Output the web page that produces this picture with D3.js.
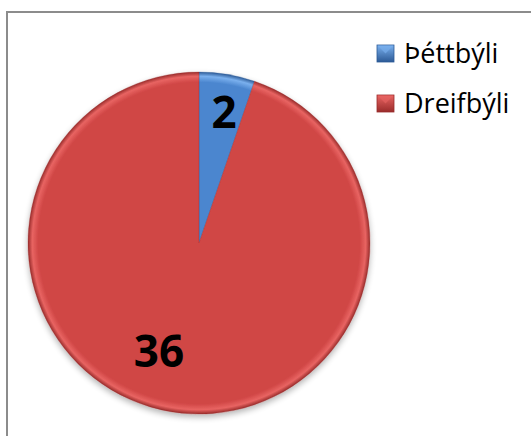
<!DOCTYPE html>
<html><head><meta charset="utf-8">
<script src="https://cdn.jsdelivr.net/npm/d3@7"></script>
<style>body{margin:0;background:#fff}svg{display:block}</style>
</head><body>
<svg id="c" width="531" height="436"></svg>
<script>
const categories = ["Þéttbýli", "Dreifbýli"];
const values = [2, 36];
const colors = ["#4b86cf", "#d04645"];
const lights = ["#7ab0ee", "#e86462"];
const darks = ["#2c5a96", "#9a2c2b"];

const svg = d3.select("#c");
const defs = svg.append("defs");

// chart border
svg.append("rect").attr("x", 7).attr("y", 12).attr("width", 540).attr("height", 440)
  .attr("fill", "#fff").attr("stroke", "#8c8c8c").attr("stroke-width", 2);

const cx = 199, cy = 243, r = 171;

// shadow
const f = defs.append("filter").attr("id", "sh").attr("x", "-20%").attr("y", "-20%").attr("width", "140%").attr("height", "140%");
f.append("feGaussianBlur").attr("in", "SourceAlpha").attr("stdDeviation", 3);
f.append("feOffset").attr("dx", 0).attr("dy", 3).attr("result", "b");
f.append("feComponentTransfer").append("feFuncA").attr("type", "linear").attr("slope", 0.3);
const m = f.append("feMerge"); m.append("feMergeNode"); m.append("feMergeNode").attr("in", "SourceGraphic");

categories.forEach((c, i) => {
  const g = defs.append("radialGradient").attr("id", "g" + i)
    .attr("gradientUnits", "userSpaceOnUse").attr("cx", 0).attr("cy", 0).attr("r", r);
  g.append("stop").attr("offset", "0%").attr("stop-color", colors[i]);
  g.append("stop").attr("offset", "94%").attr("stop-color", colors[i]);
  g.append("stop").attr("offset", "97.5%").attr("stop-color", lights[i]);
  g.append("stop").attr("offset", "100%").attr("stop-color", darks[i]);
  const lg = defs.append("linearGradient").attr("id", "l" + i).attr("x1", 0).attr("y1", 0).attr("x2", 0).attr("y2", 1);
  lg.append("stop").attr("offset", "0%").attr("stop-color", lights[i]);
  lg.append("stop").attr("offset", "100%").attr("stop-color", darks[i]);
});

const pie = d3.pie().sort(null).value(d => d)(values);
const arc = d3.arc().innerRadius(0).outerRadius(r);
const pg = svg.append("g").attr("transform", `translate(${cx},${cy})`).attr("filter", "url(#sh)");
pg.selectAll("path").data(pie).join("path")
  .attr("d", arc).attr("fill", (d, i) => `url(#g${i})`)
  .attr("stroke", (d, i) => darks[i]).attr("stroke-width", 0.6).attr("stroke-opacity", 0.5);

// data labels
const labelPos = [[25, -132], [-40, 107]];
svg.append("g").attr("transform", `translate(${cx},${cy})`)
  .selectAll("text").data(pie).join("text")
  .attr("x", (d, i) => labelPos[i][0]).attr("y", (d, i) => labelPos[i][1])
  .attr("text-anchor", "middle").attr("dominant-baseline", "central")
  .attr("font-family", "Open Sans, sans-serif").attr("font-weight", "bold")
  .attr("font-size", 44).attr("fill", "#000")
  .text(d => d.data);

// legend
const leg = svg.append("g");
categories.forEach((c, i) => {
  const y = 45 + i * 50;
  leg.append("rect").attr("x", 377).attr("y", y).attr("width", 17).attr("height", 17)
    .attr("fill", `url(#l${i})`).attr("stroke", darks[i]).attr("stroke-width", 0.8);
  leg.append("path").attr("d", `M${377.5},${y + 0.5}L${385.5},${y + 8.5}L${393.5},${y + 0.5}Z`)
    .attr("fill", lights[i]).attr("opacity", 0.6);
  leg.append("text").attr("x", 404).attr("y", y + 18)
    .attr("font-family", "Open Sans, sans-serif").attr("font-size", 27).attr("fill", "#000")
    .text(c);
});
</script>
</body></html>
